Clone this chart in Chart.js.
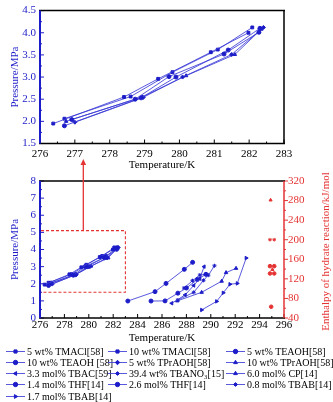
<!DOCTYPE html>
<html>
<head>
<meta charset="utf-8">
<script src="https://cdn.jsdelivr.net/npm/chart.js@4/dist/chart.umd.min.js"></script>
<style>
  html, body { margin: 0; padding: 0; background: #fff; }
  #wrap { position: relative; width: 333px; height: 402px; overflow: hidden; font-family: 'Liberation Serif', 'DejaVu Serif', serif; }
  #topChart { position: absolute; left: 0; top: 0; }
  #bottomChart { position: absolute; left: 0; top: 150px; }
  #legend { position: absolute; left: 0; top: 345px; width: 333px; height: 57px; font-size: 10px; color: #000; }
  .item { position: absolute; display: flex; align-items: center; white-space: nowrap; height: 11px; line-height: 11px; }
  .item canvas { margin-right: 2px; }
</style>
</head>
<body>
<div id="wrap">
  <canvas id="topChart" width="333" height="172" style="width:333px;height:172px"></canvas>
  <canvas id="bottomChart" width="333" height="195" style="width:333px;height:195px"></canvas>
  <div id="legend"></div>
</div>
<script>
// phase equilibrium data: temperature (K) and pressure (MPa) per system
const seriesNames = [
  '5 wt% TMACl[58]', '10 wt% TMACl[58]', '5 wt% TEAOH[58]',
  '10 wt% TEAOH [58]', '5 wt% TPrAOH[58]', '10 wt% TPrAOH[58]',
  '3.3 mol% TBAC[59]', '39.4 wt% TBANO\u2083[15]', '6.0 mol% CP[14]',
  '1.4 mol% THF[14]', '2.6 mol% THF[14]', '0.8 mol% TBAB[14]',
  '1.7 mol% TBAB[14]'
];
const seriesMarkers = [
  'rect', 'rect', 'circle', 'circle', 'rectRot', 'triangle',
  'triangleLeft', 'star', 'triangle', 'circle', 'circle', 'star', 'triangleRight'
];
const seriesTemps = [
  [276.38, 278.41, 279.39, 280.90, 281.98],
  [276.70, 278.60, 279.80, 281.10, 282.09],
  [276.91, 278.73, 279.70, 281.28, 282.28],
  [276.70, 278.90, 279.90, 281.40, 282.31],
  [277.00, 278.96, 280.09, 281.50, 282.41],
  [276.75, 278.93, 280.19, 281.59, 282.35],
  [286.80, 287.90, 288.60, 289.10, 289.45],
  [287.30, 288.60, 289.40, 289.80, 290.30],
  [287.25, 289.25, 290.89, 291.25, 292.07],
  [283.20, 285.43, 286.33, 287.83, 288.51],
  [285.10, 286.25, 287.30, 288.00, 288.90, 289.60],
  [287.80, 288.50, 289.10, 289.60],
  [289.25, 290.48, 291.02, 291.57, 292.17, 292.90]
];
const seriesPressures = [
  [1.95, 2.55, 2.96, 3.56, 4.00],
  [2.06, 2.56, 3.11, 3.62, 4.12],
  [2.04, 2.50, 3.01, 3.52, 4.01],
  [1.90, 2.53, 3.00, 3.61, 4.10],
  [1.98, 2.54, 3.00, 3.51, 4.12],
  [2.00, 2.55, 3.03, 3.51, 4.08],
  [0.86, 1.35, 1.90, 2.30, 3.00],
  [1.05, 1.50, 2.20, 2.50, 3.05],
  [1.00, 1.50, 2.15, 2.65, 2.90],
  [0.99, 1.54, 2.02, 2.84, 3.25],
  [0.99, 1.00, 1.45, 1.75, 2.25, 2.55],
  [1.75, 2.18, 2.51, 2.55],
  [0.47, 0.97, 1.47, 1.97, 2.02, 3.50]
];
// systems shown in the zoomed panel
const zoomedSeries = [0, 1, 2, 3, 4, 5];

// enthalpy of hydrate reaction (kJ/mol), right axis
const enthalpyTemps = [294.90, 294.85, 295.20, 294.85, 295.20, 295.05, 294.85, 295.20, 294.95];
const enthalpyValues = [281, 200, 200, 146, 146, 139, 131, 131, 63];
const enthalpyMarkers = ['triangle', 'star', 'star', 'circle', 'circle', 'triangle', 'circle', 'circle', 'circle'];

// axis ranges / ticks
const topTempTicks = [276, 283, 1];
const topPressTicks = [1.5, 4.5, 0.5];
const botTempTicks = [276, 296, 2];
const botPressTicks = [0, 8, 1];
const enthalpyTicks = [40, 320, 40];
// region of the zoomed panel inside the full plot: [Tmin, Tmax, Pmin, Pmax]
const zoomBox = [276, 283, 1.5, 5.1];

const FONT = "'Liberation Serif', 'DejaVu Serif', serif";
const BLUE = '#1c1cc8';
const LINE_BLUE = 'rgba(60,60,215,0.85)';
const RED = '#e53333';

function markerOpts(name) {
  if (name === 'triangleLeft') return { style: 'triangle', rot: -90 };
  if (name === 'triangleRight') return { style: 'triangle', rot: 90 };
  return { style: name, rot: 0 };
}

function seriesDataset(i) {
  const m = markerOpts(seriesMarkers[i]);
  return {
    label: seriesNames[i],
    data: seriesTemps[i].map((t, k) => ({ x: t, y: seriesPressures[i][k] })),
    showLine: true,
    borderColor: LINE_BLUE,
    borderWidth: 1,
    pointStyle: m.style,
    pointRotation: m.rot,
    pointRadius: 2,
    pointBackgroundColor: BLUE,
    pointBorderColor: BLUE,
    pointBorderWidth: 1,
    yAxisID: 'y'
  };
}

// axes frame with inner/outer tick marks
const framePlugin = {
  id: 'frame',
  afterDatasetsDraw(chart, args, o) {
    const { ctx, chartArea: a, scales } = chart;
    const seg = (x1, y1, x2, y2, c, w) => {
      ctx.strokeStyle = c; ctx.lineWidth = w;
      ctx.beginPath(); ctx.moveTo(x1, y1); ctx.lineTo(x2, y2); ctx.stroke();
    };
    const isMajor = (v, s, step) => Math.abs((v - s.min) / step - Math.round((v - s.min) / step)) < 1e-6;
    ctx.save();
    const x = scales.x, y = scales.y;
    for (let v = x.min; v <= x.max + 1e-9; v += o.xMinor) {
      const px = x.getPixelForValue(v);
      seg(px, a.bottom, px, a.bottom - (isMajor(v, x, o.xStep) ? 4 : 2), '#000', 1);
    }
    for (let v = y.min; v <= y.max + 1e-9; v += o.yMinor) {
      const py = y.getPixelForValue(v);
      seg(a.left, py, a.left + (isMajor(v, y, o.yStep) ? 4 : 2), py, BLUE, 1);
    }
    if (scales.y2) {
      const r = scales.y2;
      for (let v = r.min; v <= r.max + 1e-9; v += o.y2Minor) {
        const py = r.getPixelForValue(v);
        seg(a.right, py, a.right + (isMajor(v, r, o.y2Step) ? 4 : 2), py, RED, 1);
      }
    }
    seg(a.left - 1, a.top, a.right + 1, a.top, '#000', 1.5);
    seg(a.left - 1, a.bottom, a.right + 1, a.bottom, '#000', 1.5);
    seg(a.right, a.top, a.right, a.bottom, o.rightColor, 1.5);
    seg(a.left, a.top, a.left, a.bottom, BLUE, 2);
    ctx.restore();
  }
};

// dashed zoom box, arrow and rotated right-axis title for the full plot
const overlayPlugin = {
  id: 'overlay',
  afterDraw(chart) {
    const { ctx, chartArea: a, scales } = chart;
    const x = scales.x, y = scales.y;
    ctx.save();
    const x0 = x.getPixelForValue(zoomBox[0]), x1 = x.getPixelForValue(zoomBox[1]);
    const y0 = y.getPixelForValue(zoomBox[2]), y1 = y.getPixelForValue(zoomBox[3]);
    ctx.strokeStyle = RED; ctx.lineWidth = 1.1; ctx.setLineDash([3, 2]);
    ctx.beginPath();
    ctx.moveTo(x0 + 1, y1); ctx.lineTo(x1, y1); ctx.lineTo(x1, y0); ctx.lineTo(x0 + 1, y0);
    ctx.stroke();
    ctx.setLineDash([]);
    // arrow up toward the zoomed panel
    const ax = x.getPixelForValue(279.55);
    const tip = a.top - 22;
    ctx.lineWidth = 1.3;
    ctx.beginPath(); ctx.moveTo(ax, y1); ctx.lineTo(ax, tip + 4); ctx.stroke();
    ctx.fillStyle = RED;
    ctx.beginPath(); ctx.moveTo(ax, tip); ctx.lineTo(ax - 2.8, tip + 6); ctx.lineTo(ax + 2.8, tip + 6); ctx.closePath(); ctx.fill();
    // right axis title, reading bottom to top
    ctx.translate(326, (a.top + a.bottom) / 2 + 2);
    ctx.rotate(-Math.PI / 2);
    ctx.font = '11px ' + FONT;
    ctx.textAlign = 'center'; ctx.textBaseline = 'middle';
    ctx.fillText('Enthalpy of hydrate reaction/kJ/mol', 0, 0);
    ctx.restore();
  }
};

function linearAxis(range, color, fmt, extra) {
  return Object.assign({
    type: 'linear',
    min: range[0], max: range[1],
    grid: { display: false, drawTicks: false, tickLength: 0 },
    border: { display: false },
    ticks: {
      stepSize: range[2], autoSkip: false, maxRotation: 0, color: color,
      font: { family: FONT, size: 11 }, padding: 4,
      callback: fmt || (v => v)
    }
  }, extra || {});
}

// zoomed panel
new Chart(document.getElementById('topChart'), {
  type: 'scatter',
  data: { datasets: zoomedSeries.map(seriesDataset) },
  options: {
    responsive: false, animation: false,
    layout: { padding: { left: 0, right: 49, top: 7, bottom: 0 } },
    plugins: { legend: { display: false }, tooltip: { enabled: false },
      frame: { xStep: 1, xMinor: 0.5, yStep: 0.5, yMinor: 0.25, rightColor: '#000' } },
    scales: {
      x: linearAxis(topTempTicks, '#000', null, {
        title: { display: true, text: 'Temperature/K', color: '#000', font: { family: FONT, size: 11 }, padding: { top: 0, bottom: 0 } },
        afterFit: s => { s.height = 28.5; }
      }),
      y: linearAxis(topPressTicks, BLUE, v => v.toFixed(1), {
        title: { display: true, text: 'Pressure/MPa', color: BLUE, font: { family: FONT, size: 11 }, padding: { top: 9, bottom: 0 } },
        afterFit: s => { s.width = 40; }
      })
    }
  },
  plugins: [framePlugin]
});

// full plot with enthalpy on the right axis
const enthalpySet = {
  label: 'enthalpy',
  data: enthalpyTemps.map((t, k) => ({ x: t, y: enthalpyValues[k] })),
  showLine: false,
  pointStyle: enthalpyMarkers,
  pointRadius: 1.8,
  pointBackgroundColor: RED,
  pointBorderColor: RED,
  pointBorderWidth: 1,
  yAxisID: 'y2'
};

new Chart(document.getElementById('bottomChart'), {
  type: 'scatter',
  data: { datasets: seriesNames.map((n, i) => seriesDataset(i)).concat([enthalpySet]) },
  options: {
    responsive: false, animation: false,
    layout: { padding: { left: 0, right: 0, top: 31, bottom: 0 } },
    plugins: { legend: { display: false }, tooltip: { enabled: false },
      frame: { xStep: 2, xMinor: 1, yStep: 1, yMinor: 0.5, y2Step: 40, y2Minor: 20, rightColor: RED } },
    scales: {
      x: linearAxis(botTempTicks, '#000', null, {
        ticks: { stepSize: 2, autoSkip: false, maxRotation: 0, color: '#000', font: { family: FONT, size: 11 }, padding: 1 },
        title: { display: true, text: 'Temperature/K', color: '#000', font: { family: FONT, size: 11 }, padding: { top: 0, bottom: 0 } },
        afterFit: s => { s.height = 27; }
      }),
      y: linearAxis(botPressTicks, BLUE, null, {
        title: { display: true, text: 'Pressure/MPa', color: BLUE, font: { family: FONT, size: 11 }, padding: { top: 9, bottom: 0 } },
        afterFit: s => { s.width = 40; }
      }),
      y2: linearAxis(enthalpyTicks, RED, null, {
        position: 'right',
        afterFit: s => { s.width = 49; }
      })
    }
  },
  plugins: [framePlugin, overlayPlugin]
});

// legend in three columns
const legendCols = [6, 108, 226];
const legend = document.getElementById('legend');
seriesNames.forEach((name, i) => {
  const item = document.createElement('div');
  item.className = 'item';
  item.style.left = legendCols[i % 3] + 'px';
  item.style.top = (0.5 + Math.floor(i / 3) * 11.3) + 'px';
  const c = document.createElement('canvas');
  c.width = 19; c.height = 11;
  const g = c.getContext('2d');
  g.strokeStyle = LINE_BLUE; g.lineWidth = 1;
  g.beginPath(); g.moveTo(0, 5.5); g.lineTo(19, 5.5); g.stroke();
  const m = markerOpts(seriesMarkers[i]);
  g.fillStyle = BLUE; g.strokeStyle = BLUE;
  if (Chart.helpers && Chart.helpers.drawPoint) {
    Chart.helpers.drawPoint(g, { pointStyle: m.style, rotation: m.rot, radius: 2.2, borderWidth: 1 }, 9.5, 5.5);
  } else {
    g.fillRect(7.5, 3.5, 4, 4);
  }
  const span = document.createElement('span');
  span.textContent = name;
  item.appendChild(c);
  item.appendChild(span);
  legend.appendChild(item);
});
</script>
</body>
</html>
